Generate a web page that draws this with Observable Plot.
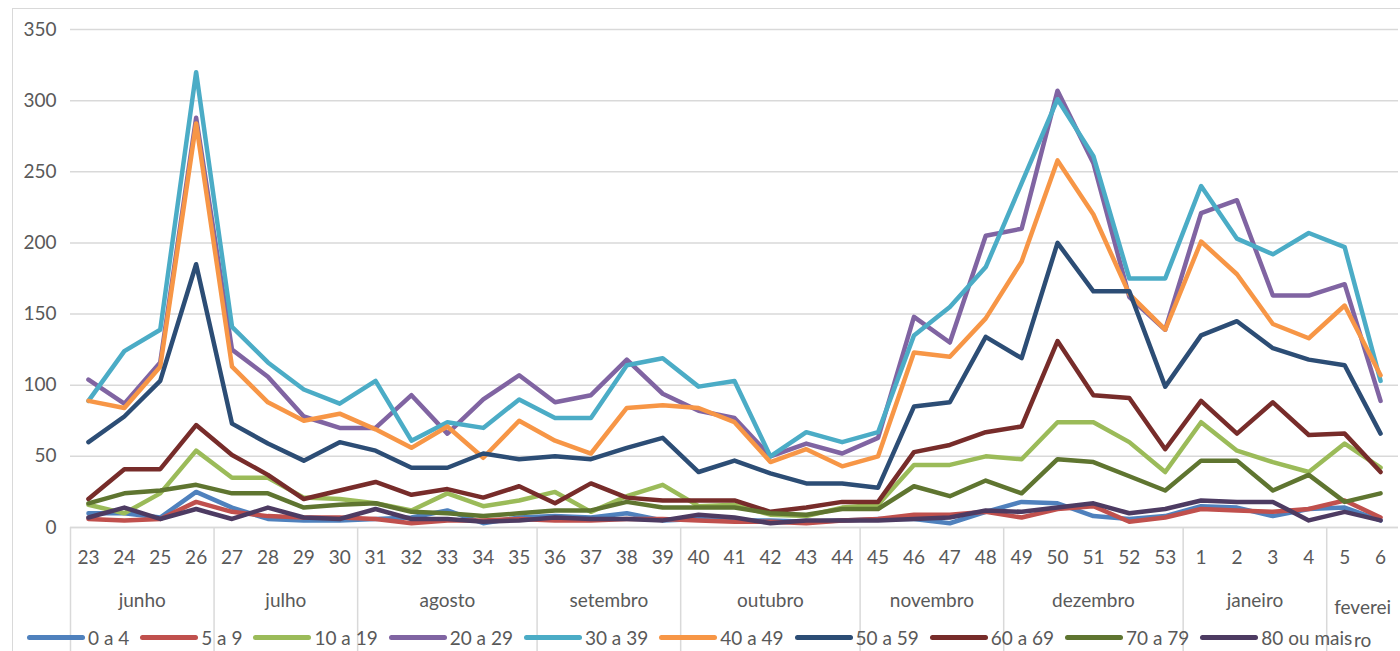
<!DOCTYPE html>
<html><head><meta charset="utf-8">
<script src="https://cdn.jsdelivr.net/npm/d3@7"></script>
<script src="https://cdn.jsdelivr.net/npm/@observablehq/plot@0.6"></script>
<style>
body{margin:0;background:#fff;}
#wrap{position:relative;width:1400px;height:651px;overflow:hidden;font-family:Lato,sans-serif;background:#fff;}
#frame{position:absolute;left:12px;top:8px;width:1500px;height:800px;border:1px solid #d9d9d9;box-sizing:border-box;}
#chart{position:absolute;left:0;top:0;}
#legend{position:absolute;left:27px;top:625px;display:flex;align-items:center;height:24px;font-size:19px;color:#595959;white-space:nowrap;}
.item{display:flex;align-items:center;margin-right:11px;}
.sw{width:58px;height:5px;border-radius:3px;margin-right:3px;}
</style></head><body>
<div id="wrap"><div id="frame"></div><div id="chart"></div><div id="legend"></div></div>
<script>
const weeks = ["23","24","25","26","27","28","29","30","31","32","33","34","35","36","37","38","39","40","41","42","43","44","45","46","47","48","49","50","51","52","53","1","2","3","4","5","6"];
const months = ["junho","julho","agosto","setembro","outubro","novembro","dezembro","janeiro","fevereiro"];
const monthFirstWeek = ["23","27","31","36","40","45","49","1","5"];
const monthWeekCount = [4,4,5,4,5,4,5,4,2];
const yTicks = [0,50,100,150,200,250,300,350];
const seriesNames = ["0 a 4","5 a 9","10 a 19","20 a 29","30 a 39","40 a 49","50 a 59","60 a 69","70 a 79","80 ou mais"];
const colors = ["#4f81bd","#c0504d","#9bbb59","#8064a2","#4bacc6","#f79646","#2c4d75","#772c2a","#5f7530","#4d3b62"];

const v0_4   = [10,10,7,25,14,6,5,5, 6,7,12,3,7, 8,7,10,5, 6,5,5,4,5, 6,6,3,11, 18,17,8,6,8, 15,14,8,13, 14,5];
const v5_9   = [6,5,6,18,11,8,7,7, 6,3,5,5,6, 5,5,6,6, 5,4,4,3,5, 6,9,9,11, 7,13,15,4,7, 13,12,11,13, 19,7];
const v10_19 = [16,10,24,54,35,35,21,20, 17,12,24,15,19, 25,11,22,30, 15,16,9,8,14, 16,44,44,50, 48,74,74,60,39, 74,54,46,39, 59,42];
const v20_29 = [104,87,116,288,125,106,78,70, 70,93,66,90,107, 88,93,118,94, 82,77,50,59,52, 63,148,130,205, 210,307,256,162,139, 221,230,163,163, 171,89];
const v30_39 = [89,124,139,320,141,116,97,87, 103,61,74,70,90, 77,77,114,119, 99,103,50,67,60, 67,135,155,183, 242,301,261,175,175, 240,203,192,207, 197,103];
const v40_49 = [89,84,113,284,113,88,75,80, 69,56,71,49,75, 61,52,84,86, 84,74,46,55,43, 50,123,120,147, 187,258,220,164,139, 201,178,143,133, 156,107];
const v50_59 = [60,78,103,185,73,59,47,60, 54,42,42,52,48, 50,48,56,63, 39,47,38,31,31, 28,85,88,134, 119,200,166,166,99, 135,145,126,118, 114,66];
const v60_69 = [20,41,41,72,51,37,20,26, 32,23,27,21,29, 17,31,21,19, 19,19,11,14,18, 18,53,58,67, 71,131,93,91,55, 89,66,88,65, 66,39];
const v70_79 = [17,24,26,30,24,24,14,16, 17,11,10,8,10, 12,12,18,14, 14,14,10,9,13, 13,29,22,33, 24,48,46,36,26, 47,47,26,37, 18,24];
const v80    = [7,14,6,13,6,14,7,6, 13,6,6,4,5, 7,6,6,5, 9,7,3,5,5, 5,6,7,12, 11,14,17,10,13, 19,18,18,5, 11,5];
const seriesValues = [v0_4,v5_9,v10_19,v20_29,v30_39,v40_49,v50_59,v60_69,v70_79,v80];

const rows = [];
seriesNames.forEach((name, si) => seriesValues[si].forEach((v, i) => rows.push({serie: name, week: weeks[i], value: v})));

const monthRows = months.map((m, i) => {
  const start = weeks.indexOf(monthFirstWeek[i]);
  const n = monthWeekCount[i];
  const even = n % 2 === 0;
  return {month: m, even, anchor: weeks[start + (even ? n/2 - 1 : (n-1)/2)]};
});

const W = 1400, ML = 70, MR = 2;
const step = (W - ML - MR) / weeks.length;
const txt = "#595959";

const chart = Plot.plot({
  width: W, height: 651, marginLeft: ML, marginRight: MR, marginTop: 29, marginBottom: 124,
  style: {fontFamily: "Lato, sans-serif", fontSize: "19px", color: txt, background: "transparent", overflow: "visible"},
  x: {type: "point", domain: weeks, padding: 0.5, label: null},
  y: {domain: [0, 350], label: null},
  color: {domain: seriesNames, range: colors},
  marks: [
    Plot.gridY(yTicks, {stroke: "#d9d9d9", strokeOpacity: 1, strokeWidth: 1.5}),
    Plot.axisY(yTicks, {tickSize: 0, tickPadding: 14, fontSize: 19, fill: txt, label: null}),
    Plot.ruleY([0], {stroke: "#d9d9d9", strokeWidth: 1.5}),
    Plot.axisX({tickSize: 0, tickPadding: 23, fontSize: 19, fill: txt, label: null}),
    Plot.axisX(monthFirstWeek, {tickSize: 124, dx: -step/2, tickFormat: () => "", stroke: "#d9d9d9", strokeWidth: 1.5, label: null}),
    Plot.text(monthRows.filter(d => !d.even), {x: "anchor", text: "month", frameAnchor: "bottom", dy: 79, fontSize: 19, fill: txt}),
    Plot.text(monthRows.filter(d => d.even && d.month !== "fevereiro"), {x: "anchor", text: "month", frameAnchor: "bottom", dy: 79, dx: step/2, fontSize: 19, fill: txt}),
    Plot.text(monthRows.filter(d => d.month === "fevereiro"), {x: "anchor", text: d => d.month.slice(0, 7) + "\n" + d.month.slice(7), frameAnchor: "bottom", lineAnchor: "top", lineHeight: 1.75, dy: 63, dx: step/2, fontSize: 19, fill: txt}),
    Plot.line(rows, {x: "week", y: "value", z: "serie", stroke: "serie", strokeWidth: 4.5, strokeLinejoin: "round", strokeLinecap: "round"})
  ]
});
document.getElementById("chart").appendChild(chart);

const legend = d3.select("#legend");
seriesNames.forEach((n, i) => {
  const it = legend.append("div").attr("class", "item");
  it.append("div").attr("class", "sw").style("background", colors[i]);
  it.append("span").text(n);
});
</script>
</body></html>
